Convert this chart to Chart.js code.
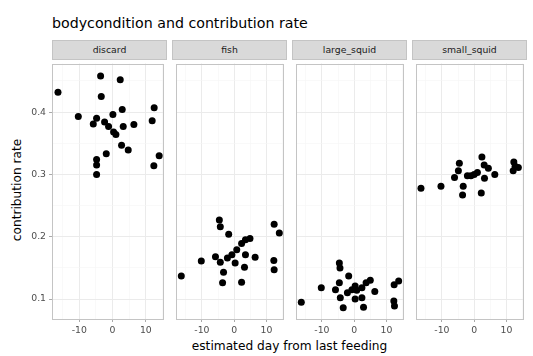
<!DOCTYPE html>
<html>
<head>
<meta charset="utf-8">
<script src="https://cdn.jsdelivr.net/npm/chart.js@4/dist/chart.umd.min.js"></script>
<style>
  body { margin: 0; background: #fff; font-family: "DejaVu Sans", sans-serif; }
  #wrap { position: relative; width: 533px; height: 356px; overflow: hidden; }
  #title { position: absolute; left: 52px; top: 15px; font-size: 14.2px; line-height: 16px; color: #000; white-space: nowrap; }
  .strip { position: absolute; top: 40px; height: 20px; background: #d9d9d9; border: 1px solid #c4c4c4; box-sizing: border-box;
           font-size: 9.3px; line-height: 18px; color: #1a1a1a; text-align: center; }
  .panel { position: absolute; top: 60px; }
  #xtitle { position: absolute; left: 52px; width: 475px; top: 339px; text-align: center; font-size: 12.2px; line-height: 14px; color: #000; }
  #ytitle { position: absolute; left: 17px; top: 190px; transform: translate(-50%, -50%) rotate(-90deg); font-size: 12.2px; line-height: 14px; color: #000; white-space: nowrap; }
</style>
</head>
<body>
<div id="wrap">
  <div id="title">bodycondition and contribution rate</div>
  <div id="ytitle">contribution rate</div>
  <div id="xtitle">estimated day from last feeding</div>
</div>
<script>
// facet names
const panels = ['discard', 'fish', 'large_squid', 'small_squid'];

// estimated day from last feeding / contribution rate, per facet
const discardDay  = [-16.4, -3.6, 2.3, -3.4, -10.3, -4.8, -5.8, -2.4, 0.1, 2.9, -1.2, 0.3, 1.0, 3.2, 6.4, 12.5, 11.9, 2.7, 4.7, -1.9, -4.8, -4.8, -4.8, 14.0, 12.4];
const discardRate = [0.432, 0.458, 0.452, 0.425, 0.393, 0.390, 0.381, 0.384, 0.396, 0.404, 0.377, 0.368, 0.364, 0.377, 0.380, 0.407, 0.386, 0.347, 0.339, 0.333, 0.324, 0.315, 0.300, 0.330, 0.314];

const fishDay  = [-16.4, -10.2, -4.6, -4.3, -1.7, -5.8, -4.3, -3.3, -3.6, -2.1, -0.7, 0.8, 2.3, 3.5, 4.9, 0.3, 3.5, 3.2, 2.3, 6.5, 12.4, 14.0, 12.3, 12.4];
const fishRate = [0.137, 0.161, 0.227, 0.216, 0.204, 0.168, 0.159, 0.143, 0.126, 0.166, 0.171, 0.179, 0.189, 0.195, 0.197, 0.158, 0.171, 0.151, 0.127, 0.167, 0.220, 0.206, 0.162, 0.147];

const largeDay  = [-16.4, -10.2, -4.6, -4.4, -1.7, -5.8, -4.6, -4.3, -3.4, -2.1, -0.7, 0.3, 0.8, 2.4, 3.7, 5.0, 0.3, 2.4, 2.9, 6.4, 12.4, 13.8, 12.3, 12.5];
const largeRate = [0.095, 0.118, 0.158, 0.150, 0.137, 0.115, 0.126, 0.102, 0.086, 0.110, 0.115, 0.121, 0.114, 0.118, 0.126, 0.130, 0.100, 0.102, 0.087, 0.112, 0.123, 0.129, 0.097, 0.089];

const smallDay  = [-16.5, -10.3, -4.6, -4.9, -6.1, -3.4, -3.6, -2.1, -1.0, 0.0, 1.0, 2.4, 3.1, 4.4, 3.2, 2.2, 6.4, 12.3, 12.7, 13.7, 12.1];
const smallRate = [0.278, 0.281, 0.318, 0.306, 0.295, 0.281, 0.267, 0.298, 0.298, 0.300, 0.303, 0.328, 0.315, 0.310, 0.294, 0.270, 0.300, 0.320, 0.313, 0.311, 0.306];

// axes
const xTicks = [-10, 0, 10];
const xMinor = [-15, -5, 5, 15];
const yTicks = [0.1, 0.2, 0.3, 0.4];
const yMinor = [0.15, 0.25, 0.35, 0.45];

const series = [
  [discardDay, discardRate],
  [fishDay, fishRate],
  [largeDay, largeRate],
  [smallDay, smallRate]
];

const wrap = document.getElementById('wrap');
const panelW = 115, panelH = 259, axisH = 20, yAxisW = 52;

const borderPlugin = {
  id: 'panelBorder',
  afterDraw(chart) {
    const a = chart.chartArea, c = chart.ctx;
    c.save();
    c.strokeStyle = '#c4c4c4';
    c.lineWidth = 1;
    c.strokeRect(Math.round(a.left) + 0.5, Math.round(a.top) + 0.5, Math.round(a.right - a.left) - 1, Math.round(a.bottom - a.top) - 1);
    c.restore();
  }
};

function setTicks(list) {
  return function (scale) {
    scale.ticks = list.map(v => ({ value: v }));
  };
}

panels.forEach((name, i) => {
  const left = 52 + i * 120;
  const padL = i === 0 ? yAxisW : 0;

  const strip = document.createElement('div');
  strip.className = 'strip';
  strip.style.left = left + 'px';
  strip.style.width = panelW + 'px';
  strip.textContent = name;
  wrap.appendChild(strip);

  const holder = document.createElement('div');
  holder.className = 'panel';
  holder.style.left = (left - padL) + 'px';
  const canvas = document.createElement('canvas');
  canvas.width = panelW + padL;
  canvas.height = panelH + axisH;
  holder.appendChild(canvas);
  wrap.appendChild(holder);

  const pts = series[i][0].map((d, k) => ({ x: d, y: series[i][1][k] }));

  new Chart(canvas, {
    type: 'scatter',
    data: {
      datasets: [{
        data: pts,
        backgroundColor: '#000',
        borderWidth: 0,
        pointRadius: 3.5,
        pointHoverRadius: 3.5
      }]
    },
    options: {
      responsive: false,
      animation: false,
      devicePixelRatio: 1,
      layout: { padding: 0 },
      plugins: { legend: { display: false }, tooltip: { enabled: false } },
      scales: {
        x: {
          type: 'linear',
          min: -18.2,
          max: 15.3,
          afterBuildTicks: setTicks(xTicks.concat(xMinor)),
          afterFit(s) { s.height = axisH; s.paddingLeft = 0; s.paddingRight = 0; },
          border: { display: false },
          grid: {
            color: ctx => xTicks.includes(ctx.tick.value) ? '#ebebeb' : '#f5f5f5',
            lineWidth: ctx => xTicks.includes(ctx.tick.value) ? 1 : 0.6,
            tickColor: ctx => xTicks.includes(ctx.tick.value) ? '#aaa' : 'rgba(0,0,0,0)',
            tickLength: 3
          },
          ticks: {
            padding: 3,
            maxRotation: 0,
            autoSkip: false,
            color: '#4d4d4d',
            font: { family: 'DejaVu Sans', size: 9.3 },
            callback: v => xTicks.includes(v) ? String(v) : ''
          }
        },
        y: {
          min: 0.068,
          max: 0.478,
          afterBuildTicks: setTicks(yTicks.concat(yMinor)),
          afterFit(s) { s.width = padL; s.paddingTop = 0; s.paddingBottom = 0; },
          border: { display: false },
          grid: {
            color: ctx => yTicks.includes(ctx.tick.value) ? '#ebebeb' : '#f5f5f5',
            lineWidth: ctx => yTicks.includes(ctx.tick.value) ? 1 : 0.6,
            tickColor: ctx => (i === 0 && yTicks.includes(ctx.tick.value)) ? '#aaa' : 'rgba(0,0,0,0)',
            tickLength: 3
          },
          ticks: {
            display: i === 0,
            padding: 3,
            autoSkip: false,
            color: '#4d4d4d',
            font: { family: 'DejaVu Sans', size: 9.3 },
            callback: v => yTicks.includes(v) ? v.toFixed(1) : ''
          }
        }
      }
    },
    plugins: [borderPlugin]
  });
});
</script>
</body>
</html>
